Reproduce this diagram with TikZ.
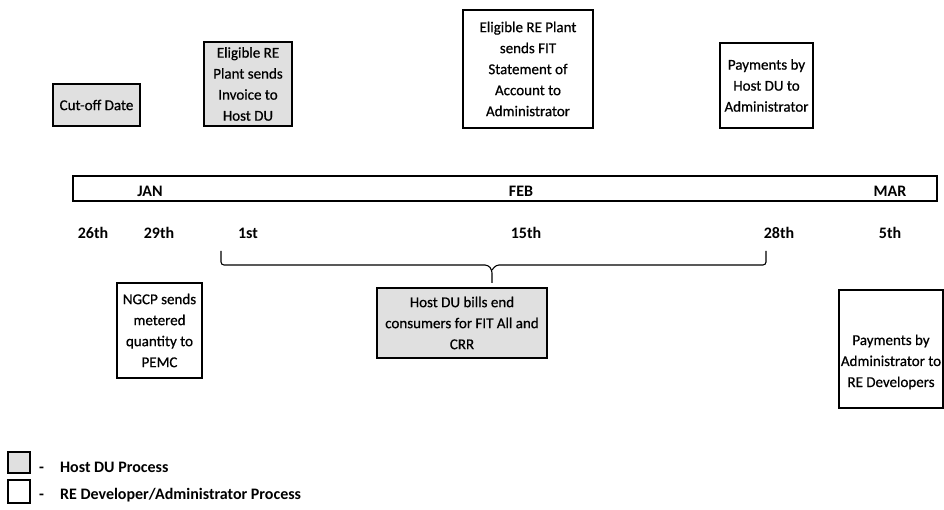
\documentclass[tikz,border=0pt]{standalone}
\usepackage{fontspec}
\setmainfont{Carlito}
\newfontfamily\boxfont[FakeBold=0.6]{Carlito}
\usetikzlibrary{positioning}

\begin{document}
\begin{tikzpicture}[x=1pt, y=-1pt,
	procbox/.style={draw, line width=1.6pt, align=center, inner sep=0pt, font=\fontsize{15}{21}\boxfont},
	hostbox/.style={procbox, fill=black!12},
	rebox/.style={procbox, fill=white},
	datelbl/.style={font=\fontsize{16}{19}\selectfont\bfseries},
	legendlbl/.style={anchor=west, inner sep=0pt, font=\fontsize{16}{19}\selectfont\bfseries},
	bracket/.style={line width=1.1pt, rounded corners=3pt}]
	\useasboundingbox (0,0) rectangle (944,510);
	%les boites du haut
	\node[hostbox, minimum width=87pt, minimum height=42pt] (cutoff) at (96.5,105) {Cut-off Date};
	\node[hostbox, minimum width=88pt, minimum height=84pt] (invoice) at (248,84) {Eligible RE\\Plant sends\\Invoice to\\Host DU};
	\node[rebox, minimum width=130pt, minimum height=118pt] (soa) at (528,69) {Eligible RE Plant\\sends FIT\\Statement of\\Account to\\Administrator};
	\node[rebox, minimum width=93pt, minimum height=85pt] (payhost) at (766.5,85.5) {Payments by\\Host DU to\\Administrator};
	%la barre des mois
	\node[draw, line width=1.6pt, minimum width=864pt, minimum height=25pt] (bar) at (505,188.5) {};
	\node[datelbl] (jan) at (150,191) {JAN};
	\node[datelbl] (feb) at (521,191) {FEB};
	\node[datelbl] (mar) at (890,191) {MAR};
	%les dates
	\node[datelbl] (d26) at (93,233) {26th};
	\node[datelbl] (d29) at (159,233) {29th};
	\node[datelbl] (d1) at (248,233) {1st};
	\node[datelbl] (d15) at (526,233) {15th};
	\node[datelbl] (d28) at (779,233) {28th};
	\node[datelbl] (d5) at (890,233) {5th};
	%les boites du bas
	\node[rebox, minimum width=85pt, minimum height=95pt] (ngcp) at (159.5,330.5) {NGCP sends\\metered\\quantity to\\PEMC};
	\node[hostbox, minimum width=170pt, minimum height=70pt] (hostbill) at (462,323) {Host DU bills end\\consumers for FIT All and\\CRR};
	\node[rebox, minimum width=104pt, minimum height=118pt] (payadm) at (891,349) {};
	\node[procbox, draw=none] (payadmtxt) at (891,362) {Payments by\\Administrator to\\RE Developers};
	%l'accolade
	\coordinate (bl) at (221,251);
	\coordinate (br) at (766,251);
	\coordinate (tip) at (492,283);
	\draw[bracket] (bl) |- (488,265) -- (492,270) -- (tip);
	\draw[bracket] (br) |- (496,265) -- (492,270);
	%la legende
	\node[hostbox, minimum width=22pt, minimum height=21pt] (keyhost) at (19,462.5) {};
	\node[rebox, minimum width=22pt, minimum height=23pt] (keyre) at (19,491.5) {};
	\node[legendlbl] (keyhosttxt) at (39,467) {-\quad Host DU Process};
	\node[legendlbl] (keyretxt) at (39,495) {-\quad RE Developer/Administrator Process};
\end{tikzpicture}
\end{document}
